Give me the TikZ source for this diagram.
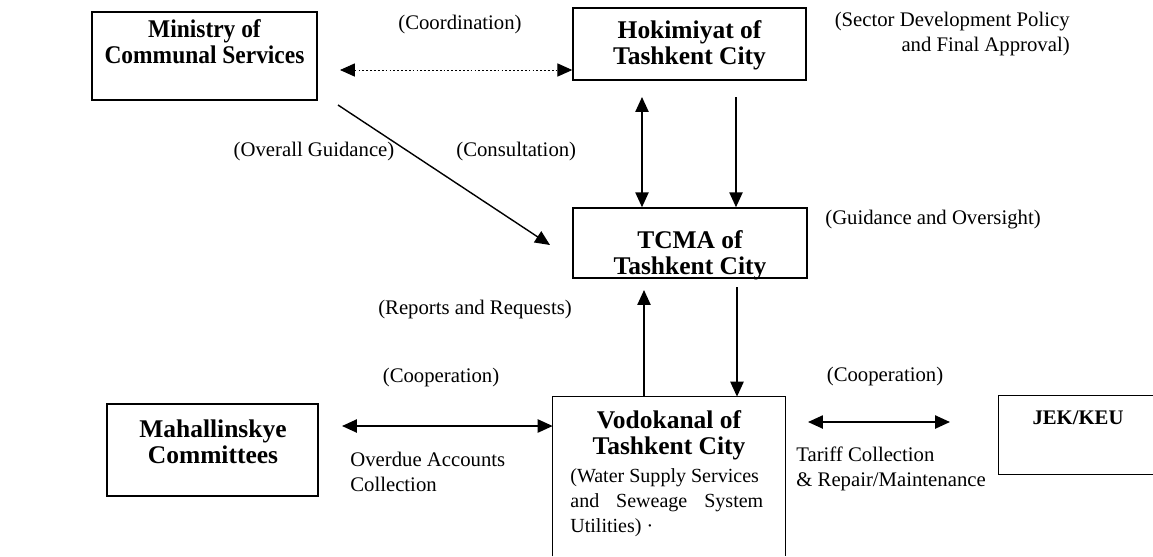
\documentclass[tikz,border=0pt]{standalone}
\usepackage{fontspec}
\setmainfont{Liberation Serif}
\usetikzlibrary{arrows.meta,calc}
\begin{document}
\begin{tikzpicture}[x=0.02cm,y=-0.02cm,
  box/.style={draw, line width=0.85pt, inner sep=0pt},
  openbox/.style={draw=none, inner sep=0pt},
  boxtext/.style={font=\fontsize{14.5}{14.7}\selectfont\bfseries, align=center, inner sep=0pt},
  lbl/.style={font=\fontsize{11.8}{14.2}\selectfont, inner sep=0pt},
  tip/.tip={Triangle[length=8.5pt,width=7.5pt]},
  arr/.style={line width=1pt, -tip},
  dblarr/.style={line width=1pt, tip-tip},
  coordarr/.style={line width=0.5pt, tip-tip, dash pattern=on 1pt off 1.2pt},
  ]
\useasboundingbox (0,0) rectangle (1153,556);
% boxes
\node[box, minimum width=4.5cm, minimum height=1.76cm] (min) at (204.5,56) {};
\node[boxtext, xscale=0.92] (mint) at (204.5,42) {Ministry of\\Communal Services};
\node[box, minimum width=4.66cm, minimum height=1.44cm] (hok) at (689.5,44) {};
\node[boxtext] (hokt) at (689.5,45) {Hokimiyat of\\Tashkent City};
\node[box, minimum width=4.68cm, minimum height=1.4cm] (tcma) at (690,243) {};
\node[boxtext] (tcmat) at (690,255) {TCMA of\\Tashkent City};
\node[box, minimum width=4.22cm, minimum height=1.84cm] (mah) at (212.5,450) {};
\node[boxtext] (maht) at (213,442) {Mahallinskye\\Committees};
\node[openbox, minimum width=4.64cm, minimum height=3.18cm] (vod) at (669,476.5) {};
\draw[line width=0.85pt] (vod.south west) -- (vod.north west) -- (vod.north east) -- (vod.south east);
\node[boxtext] (vodt) at (669,435) {Vodokanal of\\Tashkent City};
\node[font=\fontsize{11.4}{14.2}\selectfont, align=left, inner sep=0pt, anchor=north west] (vodp) at (570,468)
  {(Water Supply Services\\\makebox[3.86cm][s]{and Seweage System}\\Utilities) ·};
\node[openbox, minimum width=3.08cm, minimum height=1.56cm] (jek) at (1076,435) {};
\draw[line width=0.85pt] (jek.north east) -- (jek.north west) -- (jek.south west) -- (jek.south east);
\node[font=\fontsize{11.8}{14}\selectfont\bfseries, inner sep=0pt] (jekt) at (1078,418) {JEK/KEU};
% labels
\node[lbl] (lcoord) at (460,25) {(Coordination)};
\node[lbl, align=right, anchor=north east] (lsector) at (1070,12) {(Sector Development Policy\\and Final Approval)};
\node[lbl] (loverall) at (314,152) {(Overall Guidance)};
\node[lbl, anchor=west] (lconsult) at (456,152) {(Consultation)};
\node[lbl, anchor=west] (lguid) at (825,220) {(Guidance and Oversight)};
\node[lbl] (lrep) at (475,310) {(Reports and Requests)};
\node[lbl] (lcoop1) at (441,378) {(Cooperation)};
\node[lbl, align=left, anchor=north west] (lover) at (350,452) {Overdue Accounts\\Collection};
\node[lbl] (lcoop2) at (885,377) {(Cooperation)};
\node[lbl, align=left, anchor=north west] (ltariff) at (796,447) {Tariff Collection\\\& Repair/Maintenance};
% connectors
\coordinate (cL) at (340,70);
\draw[coordarr] (cL) -- (hok.west |- cL);
\coordinate (dS) at (338,105);
\coordinate (dE) at (550,245);
\draw[arr, line width=0.8pt] (dS) -- (dE);
\coordinate (h1) at (642,97);
\draw[dblarr] (h1) -- (tcma.north -| h1);
\coordinate (h2) at (736,97);
\draw[arr] (h2) -- (tcma.north -| h2);
\coordinate (v1) at (644,290);
\draw[arr] (vod.north -| v1) -- (v1);
\coordinate (v2) at (737,287);
\draw[arr] (v2) -- (vod.north -| v2);
\coordinate (m1) at (342,426);
\draw[dblarr] (m1) -- (vod.west |- m1);
\coordinate (j1) at (808,422);
\coordinate (j2) at (950,422);
\draw[dblarr] (j1) -- (j2);
\end{tikzpicture}
\end{document}
